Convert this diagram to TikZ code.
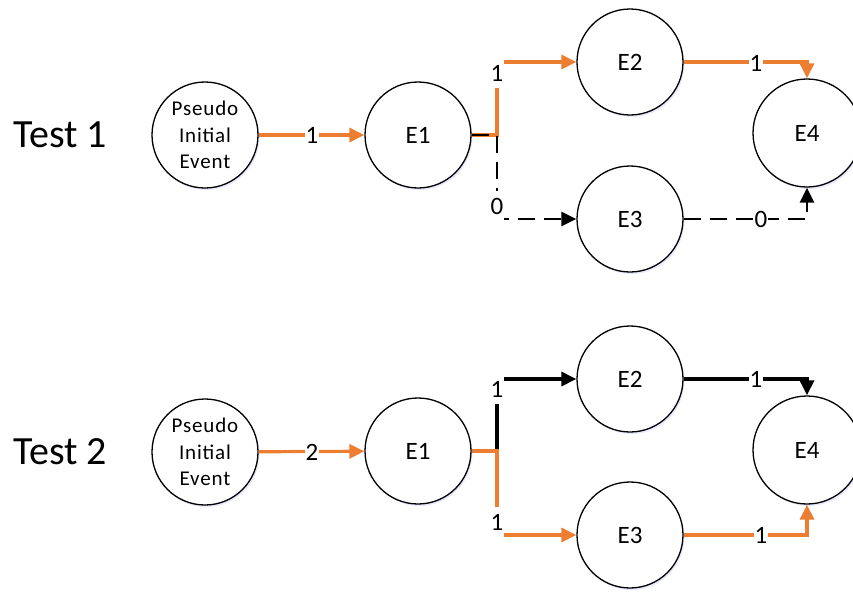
\documentclass[tikz,border=0pt]{standalone}
\usepackage{fontspec}
\setmainfont{Carlito}
\usetikzlibrary{arrows.meta,shadows}
\definecolor{orng}{HTML}{ED7D31}
\begin{document}
\begin{tikzpicture}[x=1pt,y=-1pt,
  ev/.style={circle,draw=black,line width=1.3pt,fill=white,minimum size=106pt,inner sep=0pt,
    font=\fontsize{25}{30}\selectfont,
    general shadow={fill=blue!9,shadow xshift=1.5pt,shadow yshift=-2pt}},
  pseudo/.style={ev,align=center,font=\fontsize{21}{26.5}\selectfont\addfontfeatures{LetterSpace=4}},
  testlab/.style={font=\fontsize{40}{46}\selectfont,inner sep=0pt},
  lab/.style={fill=white,inner sep=0pt,minimum width=14pt,minimum height=30pt,font=\fontsize{25}{30}\selectfont},
  olink/.style={draw=orng,line width=3.2pt},
  blink/.style={draw=black,line width=3.2pt},
  dlink/.style={draw=black,line width=2.4pt,dash pattern=on 17pt off 9pt},
  arr/.style={-{Triangle[length=15pt,width=14pt]}}
]
\useasboundingbox (0,0) rectangle (853,592);

% ---------- Test 1 ----------
\node[testlab] (t1) at (60,135) {Test 1};
\node[pseudo] (p1) at (205,135) {Pseudo\\Initial\\Event};
\node[ev] (e1) at (418,135) {E1};
\node[ev] (e2) at (630,62) {E2};
\node[ev] (e3) at (630,219) {E3};
\node[ev,minimum size=108pt] (e4) at (807,133) {E4};
\coordinate (b1) at (497,135);

\draw[olink,arr] (p1) -- (e1);
\draw[olink,arr] (e1.east) -- (b1) |- (e2.west);
\draw[dlink,arr] (e1.east) -- (b1) |- (e3.west);
\draw[olink,arr] (e2.east) -| (e4.north);
\draw[dlink,arr] (e3.east) -| (e4.south);

\node[lab] (l1a) at (312,135) {1};
\node[lab] (l1b) at (497,73) {1};
\node[lab] (l1c) at (497,206) {0};
\node[lab] (l1d) at (756,63) {1};
\node[lab] (l1e) at (761,219) {0};

% ---------- Test 2 ----------
\node[testlab] (t2) at (60,452) {Test 2};
\node[pseudo] (p2) at (205,452) {Pseudo\\Initial\\Event};
\node[ev] (f1) at (418,451) {E1};
\node[ev] (f2) at (630,379) {E2};
\node[ev] (f3) at (630,535) {E3};
\node[ev,minimum size=108pt] (f4) at (807,450) {E4};
\coordinate (b2) at (497,451);

\draw[olink,arr] (p2) -- (f1);
\draw[blink,arr] (f1.east) -- (b2) |- (f2.west);
\draw[olink,arr] (f1.east) -- (b2) |- (f3.west);
\draw[blink,arr] (f2.east) -| (f4.north);
\draw[olink,arr] (f3.east) -| (f4.south);

\node[lab] (l2a) at (312,452) {2};
\node[lab] (l2b) at (497,389) {1};
\node[lab] (l2c) at (497,522) {1};
\node[lab] (l2d) at (756,379) {1};
\node[lab] (l2e) at (761,535) {1};
\end{tikzpicture}
\end{document}
